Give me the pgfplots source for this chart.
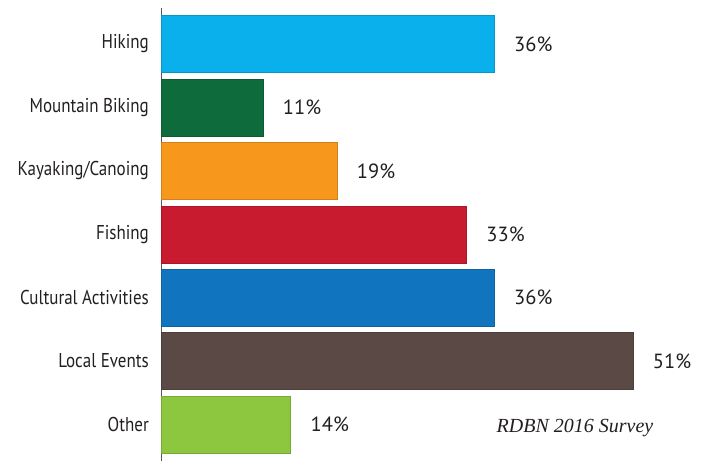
\documentclass[border=0pt]{standalone}
\usepackage{fontspec}
\setmainfont{PT Sans}
\newfontfamily\condfont[FakeStretch=0.85]{PT Sans}
\newfontfamily\serifit{Liberation Serif}
\usepackage{pgfplots}
\pgfplotsset{compat=1.18}
\definecolor{textc}{HTML}{231F20}
\definecolor{cHike}{HTML}{0AB0EC}
\definecolor{cBike}{HTML}{0E6B3B}
\definecolor{cKayak}{HTML}{F7981D}
\definecolor{cFish}{HTML}{C91B30}
\definecolor{cCult}{HTML}{1174BE}
\definecolor{cLocal}{HTML}{5A4944}
\definecolor{cOther}{HTML}{8DC63F}
\begin{document}
\begin{tikzpicture}
\useasboundingbox (0,0) rectangle (713bp,461bp);
\begin{axis}[
  at={(161bp,0bp)}, anchor=south west,
  scale only axis, width=545.75bp, height=453bp,
  xmin=0, xmax=59, ymin=-0.568, ymax=6.575,
  y dir=reverse,
  xbar, bar width=57bp, bar shift=0pt,
  axis x line=none, axis y line*=left,
  y axis line style={draw=textc!75, line width=1pt, -},
  ytick={0,...,6},
  yticklabels={Hiking,Mountain Biking,Kayaking/Canoing,Fishing,Cultural Activities,Local Events,Other},
  major tick length=0pt,
  /pgf/number format/assume math mode=true,
  yticklabel style={font=\condfont\fontsize{20bp}{22bp}\selectfont, text=textc, inner sep=0pt, xshift=-12bp},
  nodes near coords={\pgfmathprintnumber[assume math mode=true]{\pgfplotspointmeta}\%},
  every node near coord/.append style={anchor=west, inner sep=0pt, xshift=20bp, font=\fontsize{20.5bp}{22bp}\selectfont, text=textc},
  clip=false,
]
\addplot[fill=cHike, draw=cHike!85!black] coordinates {(36,0)};
\addplot[fill=cBike, draw=cBike!85!black] coordinates {(11,1)};
\addplot[fill=cKayak, draw=cKayak!85!black] coordinates {(19,2)};
\addplot[fill=cFish, draw=cFish!85!black] coordinates {(33,3)};
\addplot[fill=cCult, draw=cCult!85!black] coordinates {(36,4)};
\addplot[fill=cLocal, draw=cLocal!85!black] coordinates {(51,5)};
\addplot[fill=cOther, draw=cOther!85!black] coordinates {(14,6)};
\node[font=\serifit\itshape\fontsize{20bp}{22bp}\selectfont, text=textc] at (axis cs:44.76,6.055) {RDBN 2016 Survey};
\end{axis}
\end{tikzpicture}
\end{document}
